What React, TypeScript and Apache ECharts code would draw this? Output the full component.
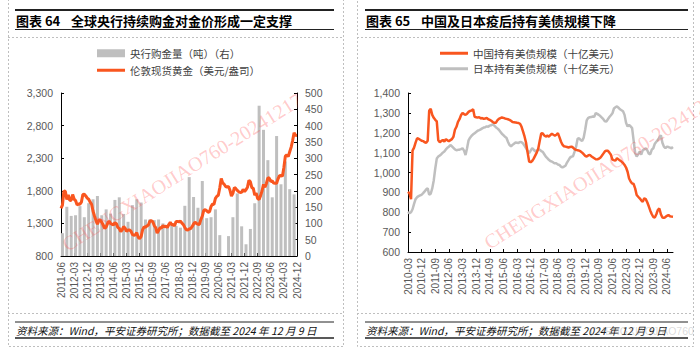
import React, { useEffect, useRef } from 'react';
import * as echarts from 'echarts';

// ---------- helpers ----------
function monthLabels(y: number, m: number, n: number): string[] {
  const out: string[] = [];
  for (let i = 0; i < n; i++) {
    const t = y * 12 + (m - 1) + i;
    out.push(`${Math.floor(t / 12)}-${String((t % 12) + 1).padStart(2, '0')}`);
  }
  return out;
}

// ---------- Chart 64 data ----------
const goldMonths = monthLabels(2011, 6, 163); // 2011-06 ... 2024-12
const goldPrice = [
  1529, 1580, 1800, 1790, 1665, 1739, 1652,
  1656, 1742, 1673, 1650, 1585, 1596, 1594, 1626, 1744, 1747, 1721, 1688,
  1671, 1627, 1593, 1487, 1414, 1343, 1286, 1352, 1349, 1316, 1275, 1225,
  1244, 1300, 1336, 1299, 1287, 1279, 1311, 1296, 1239, 1222, 1176, 1200,
  1251, 1227, 1179, 1198, 1199, 1181, 1131, 1117, 1125, 1159, 1086, 1068,
  1097, 1200, 1246, 1242, 1260, 1276, 1337, 1341, 1326, 1267, 1236, 1152,
  1192, 1234, 1231, 1267, 1246, 1260, 1236, 1283, 1315, 1280, 1282, 1265,
  1331, 1331, 1325, 1335, 1303, 1282, 1238, 1202, 1199, 1215, 1221, 1250,
  1291, 1320, 1300, 1286, 1284, 1359, 1413, 1500, 1510, 1495, 1471, 1480,
  1560, 1597, 1591, 1683, 1716, 1732, 1847, 1990, 1922, 1900, 1866, 1858,
  1867, 1808, 1718, 1760, 1850, 1834, 1807, 1785, 1775, 1777, 1822, 1790,
  1817, 1856, 1960, 1937, 1849, 1837, 1732, 1765, 1681, 1665, 1726, 1797,
  1898, 1855, 1913, 2000, 1992, 1943, 1951, 1919, 1916, 1916, 1985, 2031,
  2034, 2023, 2158, 2331, 2351, 2326, 2398, 2470, 2571, 2691, 2651, 2650,
];
// quarterly central bank purchases (tonnes), 2011Q2 ... 2024Q3
const cbPurchase = [
  70, 151, 123,
  125, 153, 119, 162,
  174, 184, 125, 143,
  130, 172, 180, 129,
  105, 156, 174, 164,
  112, 112, 110, 112,
  100, 88, 100, 92,
  87, 154, 242, 181,
  148, 230, 116, 119,
  143, 64, 0, 61,
  119, 192, 91, 36,
  83, 162, 461, 387,
  294, 180, 368, 220,
  290, 205, 189,
];
// each quarter's bar sits one month after the first month of the axis, then every 3 months
const barData = goldMonths.map((_, i) =>
  i % 3 === 1 && (i - 1) / 3 < cbPurchase.length ? cbPurchase[(i - 1) / 3] : '-'
);

// ---------- Chart 65 data ----------
const tsyMonths = monthLabels(2010, 3, 176); // 2010-03 ... 2024-10
const chinaHold = [
  903, 895, 866, 1110, 1125, 1150, 1172, 1170, 1165, 1160,
  1158, 1152, 1150, 1160, 1312, 1320, 1290, 1275, 1265, 1257,
  1162, 1152, 1158, 1164, 1155, 1168, 1162, 1158, 1163, 1168,
  1180, 1215, 1230, 1255, 1268, 1288, 1300, 1294, 1290, 1296,
  1305, 1310, 1312, 1318, 1280, 1278, 1276, 1279, 1272, 1274,
  1270, 1272, 1274, 1268, 1265, 1260, 1254, 1250, 1250, 1262,
  1270, 1274, 1277, 1275, 1272, 1270, 1268, 1265, 1260, 1254,
  1253, 1252, 1250, 1249, 1245, 1230, 1206, 1180, 1148, 1100,
  1055, 1052, 1058, 1070, 1085, 1100, 1120, 1160, 1198, 1196,
  1186, 1181, 1185, 1181, 1188, 1195, 1190, 1186, 1190, 1198,
  1178, 1156, 1140, 1132, 1130, 1128, 1126, 1128, 1130, 1125,
  1118, 1114, 1112, 1110, 1106, 1100, 1092, 1084, 1080, 1086,
  1089, 1082, 1077, 1072, 1067, 1066, 1069, 1074, 1084, 1095,
  1106, 1110, 1110, 1100, 1089, 1065, 1062, 1060, 1072, 1066,
  1060, 1055, 1048, 1038, 1025, 1004, 970, 955, 945, 942,
  920, 887, 878, 870, 860, 853, 870, 866, 850, 830,
  808, 790, 776, 774, 790, 812, 819, 790, 774, 772,
  776, 782, 786, 780, 778, 777,
];
const japanHold = [
  802, 795, 800, 815, 842, 866, 876, 881, 885, 888,
  896, 905, 915, 920, 888, 893, 920, 960, 1020, 1070,
  1080, 1086, 1092, 1100, 1106, 1116, 1124, 1130, 1138, 1132,
  1124, 1116, 1112, 1114, 1115, 1118, 1122, 1110, 1088, 1122,
  1162, 1175, 1185, 1192, 1198, 1204, 1210, 1213, 1217, 1222,
  1226, 1228, 1232, 1230, 1236, 1238, 1243, 1236, 1228, 1222,
  1215, 1205, 1195, 1188, 1180, 1175, 1155, 1139, 1131, 1139,
  1145, 1151, 1150, 1148, 1154, 1152, 1146, 1134, 1122, 1108,
  1097, 1110, 1122, 1115, 1106, 1110, 1114, 1114, 1108, 1104,
  1092, 1080, 1072, 1064, 1058, 1055, 1050, 1046, 1046, 1040,
  1038, 1030, 1026, 1030, 1034, 1050, 1062, 1075, 1080, 1082,
  1105, 1130, 1170, 1172, 1164, 1158, 1175, 1215, 1262, 1275,
  1278, 1279, 1282, 1281, 1299, 1295, 1290, 1284, 1276, 1268,
  1258, 1257, 1268, 1279, 1288, 1298, 1322, 1328, 1333, 1326,
  1318, 1313, 1308, 1290, 1250, 1232, 1240, 1232, 1223, 1160,
  1098, 1080, 1092, 1105, 1090, 1112, 1116, 1122, 1112, 1095,
  1092, 1115, 1122, 1145, 1155, 1164, 1175, 1188, 1150, 1130,
  1122, 1130, 1128, 1125, 1122, 1128,
];

const barName = '央行购金量（吨）（右）';
const goldName = '伦敦现货黄金（美元/盎司）';
const chinaName = '中国持有美债规模（十亿美元）';
const japanName = '日本持有美债规模（十亿美元）';

const FONT = "'Liberation Sans', Arial, 'Noto Sans CJK SC', sans-serif";
const CJK = "'Noto Sans CJK SC', 'Liberation Sans', sans-serif";
const RED = '#F9561F';
const GRAY = '#BFBFBF';
const LABEL = '#595959';

const fmt = (v: number) => v.toLocaleString('en-US');

function panelGraphics(p: { x0: number; x1: number; lx0: number; lx1: number; tx: number; num: string; title: string }) {
  const dash = { stroke: '#BFBFBF', lineWidth: 1, lineDash: [2, 2] };
  return [
    { type: 'rect', shape: { x: p.x0 + 0.5, y: -2, width: p.x1 - p.x0, height: 348.5 }, style: { fill: 'none', ...dash }, silent: true },
    { type: 'line', shape: { x1: p.x0, y1: 37.5, x2: p.x1, y2: 37.5 }, style: dash, silent: true },
    { type: 'line', shape: { x1: p.x0, y1: 313.5, x2: p.x1, y2: 313.5 }, style: dash, silent: true },
    { type: 'line', shape: { x1: p.lx0, y1: 10, x2: p.lx1, y2: 10 }, style: { stroke: '#222', lineWidth: 2 }, silent: true },
    { type: 'line', shape: { x1: p.lx0, y1: 29.5, x2: p.lx1, y2: 29.5 }, style: { stroke: '#222', lineWidth: 1 }, silent: true },
    { type: 'text', x: p.tx, y: 20, style: { text: p.num, font: `bold 13px ${CJK}`, fill: '#000', textVerticalAlign: 'middle' }, silent: true },
    { type: 'text', x: p.tx + 55, y: 20, style: { text: p.title, font: `bold 13px ${CJK}`, fill: '#000', textVerticalAlign: 'middle' }, silent: true },
    { type: 'line', shape: { x1: p.lx0, y1: 322, x2: p.lx1, y2: 322 }, style: { stroke: '#222', lineWidth: 1 }, silent: true },
    { type: 'line', shape: { x1: p.lx0, y1: 338, x2: p.lx1, y2: 338 }, style: { stroke: '#222', lineWidth: 1.5 }, silent: true },
    { type: 'text', x: p.tx, y: 330, style: { text: '资料来源：Wind，平安证券研究所；数据截至 2024 年 12 月 9 日', font: `italic 10.5px ${CJK}`, fill: '#111', textVerticalAlign: 'middle' }, silent: true },
  ];
}

export default function App() {
  const ref = useRef<HTMLDivElement>(null);
  useEffect(() => {
    if (!ref.current) return;
    const chart = echarts.init(ref.current, undefined, { renderer: 'svg' });
    const xAxisCommon = (gridIndex: number, data: string[]) => ({
      type: 'category',
      gridIndex,
      data,
      boundaryGap: false,
      axisLine: { lineStyle: { color: '#000', width: 1 } },
      axisTick: { inside: true, interval: 8, length: 3, lineStyle: { color: '#000' } },
      axisLabel: { interval: 8, rotate: 90, fontSize: 10, color: LABEL, margin: 6, fontFamily: FONT },
    });
    const yAxisCommon = {
      type: 'value',
      axisLine: { show: true, lineStyle: { color: '#000', width: 1 } },
      axisTick: { show: true, inside: true, length: 3, lineStyle: { color: '#000' } },
      splitLine: { show: false },
      axisLabel: { fontSize: 10.5, color: LABEL, margin: 8, fontFamily: FONT, formatter: fmt },
    };
    const legendCommon = {
      orient: 'vertical',
      itemWidth: 28,
      icon: 'rect',
      padding: 0,
      selectedMode: false,
      textStyle: { fontSize: 10.5, color: '#404040', fontFamily: CJK },
    };
    const option: any = {
      animation: false,
      textStyle: { fontFamily: FONT },
      legend: [
        { ...legendCommon, left: 97, top: 48, itemHeight: 8, data: [barName] },
        { ...legendCommon, left: 97, top: 65, itemHeight: 3, data: [goldName] },
        { ...legendCommon, left: 440, top: 48, itemHeight: 3, itemGap: 5, data: [chinaName, japanName] },
      ],
      grid: [
        { left: 61, top: 93, width: 236, height: 163 },
        { left: 408, top: 93, width: 265, height: 159 },
      ],
      xAxis: [xAxisCommon(0, goldMonths), xAxisCommon(1, tsyMonths)],
      yAxis: [
        { ...yAxisCommon, gridIndex: 0, position: 'left', min: 800, max: 3300, interval: 500 },
        { ...yAxisCommon, gridIndex: 0, position: 'right', min: 0, max: 500, interval: 50 },
        { ...yAxisCommon, gridIndex: 1, position: 'left', min: 600, max: 1400, interval: 100 },
      ],
      series: [
        { name: barName, type: 'bar', xAxisIndex: 0, yAxisIndex: 1, data: barData, barWidth: 3, itemStyle: { color: GRAY } },
        { name: goldName, type: 'line', xAxisIndex: 0, yAxisIndex: 0, data: goldPrice, symbol: 'none', lineStyle: { color: RED, width: 3 }, itemStyle: { color: RED } },
        { name: japanName, type: 'line', xAxisIndex: 1, yAxisIndex: 2, data: japanHold, symbol: 'none', lineStyle: { color: GRAY, width: 2.5 }, itemStyle: { color: GRAY } },
        { name: chinaName, type: 'line', xAxisIndex: 1, yAxisIndex: 2, data: chinaHold, symbol: 'none', lineStyle: { color: RED, width: 2.5 }, itemStyle: { color: RED } },
      ],
      graphic: [
        ...panelGraphics({ x0: 8, x1: 343, lx0: 15, lx1: 334, tx: 16, num: '图表 64', title: '全球央行持续购金对金价形成一定支撑' }),
        ...panelGraphics({ x0: 357, x1: 693, lx0: 365, lx1: 688, tx: 366, num: '图表 65', title: '中国及日本疫后持有美债规模下降' }),
        { type: 'text', x: 64, y: 246, rotation: 0.56, style: { text: 'CHENGXIAOJIAO760-20241217', font: "20px 'Liberation Serif', serif", fill: 'rgba(255,80,80,0.3)', textVerticalAlign: 'middle' }, silent: true, z: 100 },
        { type: 'text', x: 486, y: 244, rotation: 0.57, style: { text: 'CHENGXIAOJIAO760-20241217', font: "20px 'Liberation Serif', serif", fill: 'rgba(255,80,80,0.3)', textVerticalAlign: 'middle' }, silent: true, z: 100 },
        { type: 'text', x: 590, y: 331, style: { text: 'CHENGXIAOJIAO760', font: "10.5px 'Liberation Sans', sans-serif", fill: 'rgba(150,150,150,0.35)', textVerticalAlign: 'middle' }, silent: true, z: 100 },
      ],
    };
    chart.setOption(option);
    return () => chart.dispose();
  }, []);
  return <div ref={ref} style={{ position: 'absolute', left: 0, top: 0, width: 700, height: 351, background: '#fff' }} />;
}
